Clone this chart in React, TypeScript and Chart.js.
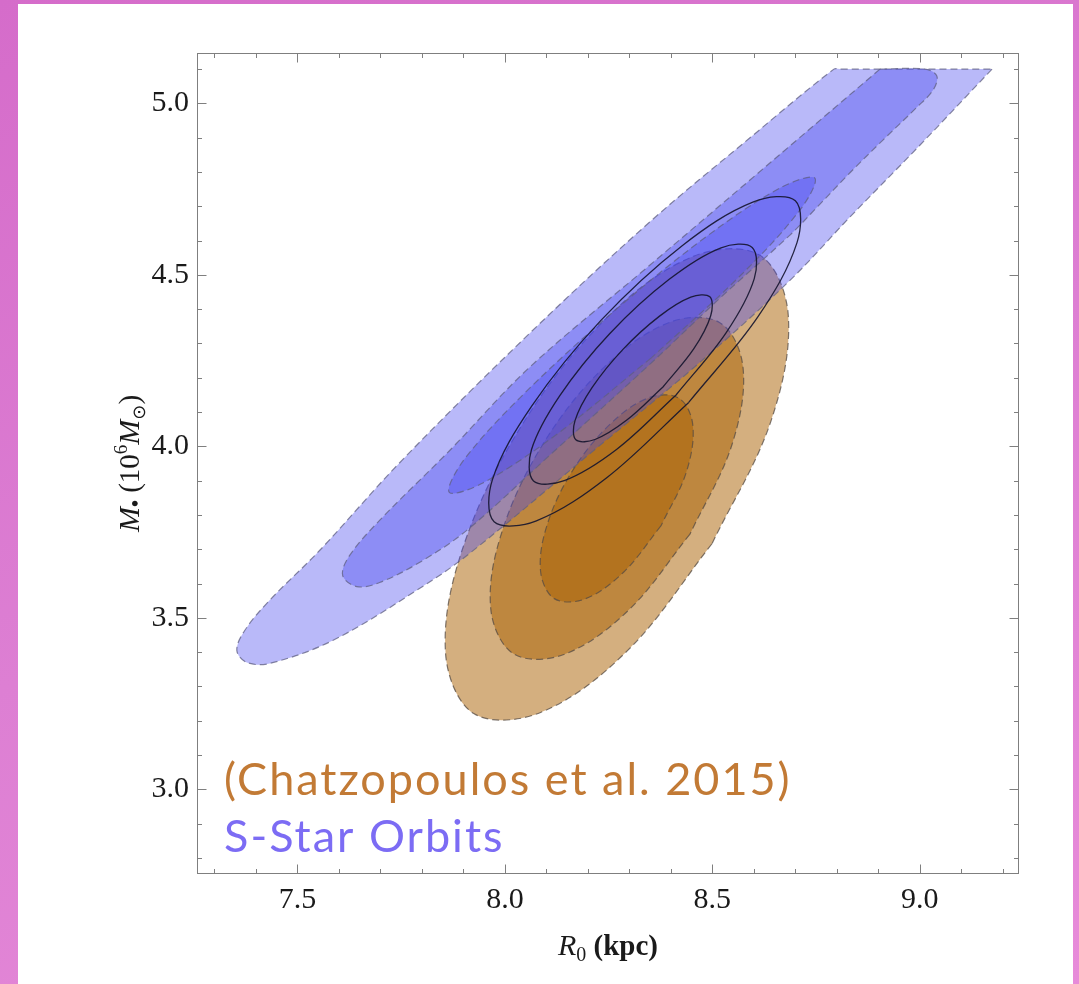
import React, { useEffect, useRef } from 'react';
import { Chart, registerables } from 'chart.js';

Chart.register(...registerables);

// ---- axes ----
const xRange: [number, number] = [7.258, 9.239];
const yRange: [number, number] = [2.753, 5.147];
const xTickLabels = [7.5, 8.0, 8.5, 9.0];
const yTickLabels = [3.0, 3.5, 4.0, 4.5, 5.0];
const xMinorTicks = [7.3, 7.4, 7.5, 7.6, 7.7, 7.8, 7.9, 8.0, 8.1, 8.2, 8.3, 8.4, 8.5, 8.6, 8.7, 8.8, 8.9, 9.0, 9.1, 9.2];
const yMinorTicks = [2.8, 2.9, 3.0, 3.1, 3.2, 3.3, 3.4, 3.5, 3.6, 3.7, 3.8, 3.9, 4.0, 4.1, 4.2, 4.3, 4.4, 4.5, 4.6, 4.7, 4.8, 4.9, 5.0, 5.1];

const xTitle = 'R0 (kpc)';
const noteChatz = '(Chatzopoulos et al. 2015)';
const noteSStar = 'S-Star Orbits';

// ---- contours: [R0 (kpc), M (10^6 Msun)] ----
// S-star orbits (blue), clipped at M = 5.1
const sStarOuter: [number, number][] = [
  [9.174, 5.100], [9.000, 4.878], [8.831, 4.668], [8.687, 4.484], [8.470, 4.245], [8.229, 4.003],
  [7.915, 3.688], [7.795, 3.586], [7.585, 3.434], [7.433, 3.367], [7.378, 3.370], [7.354, 3.405],
  [7.373, 3.463], [7.433, 3.551], [7.554, 3.697], [7.747, 3.953], [8.060, 4.330], [8.349, 4.654],
  [8.590, 4.899], [8.793, 5.100], [8.808, 5.100], [9.174, 5.100],
];
const sStarMiddle: [number, number][] = [
  [8.904, 5.100], [9.012, 5.100], [9.041, 5.080], [9.032, 5.039], [8.993, 4.989], [8.911, 4.893],
  [8.831, 4.797], [8.752, 4.697], [8.687, 4.616], [8.518, 4.432], [8.349, 4.239], [8.108, 3.974],
  [7.908, 3.755], [7.795, 3.662], [7.698, 3.603], [7.643, 3.591], [7.609, 3.624], [7.626, 3.682],
  [7.698, 3.784], [7.867, 3.988], [8.060, 4.231], [8.349, 4.528], [8.590, 4.776], [8.904, 5.100],
];
const sStarInner: [number, number][] = [
  [8.353, 4.258], [8.127, 4.037], [7.948, 3.894], [7.866, 3.866], [7.901, 3.960], [8.045, 4.152],
  [8.259, 4.390], [8.485, 4.611], [8.664, 4.754], [8.747, 4.782], [8.711, 4.689], [8.566, 4.496],
  [8.353, 4.258],
];

// Chatzopoulos et al. 2015 (orange)
const chatzOuter: [number, number][] = [
  [8.499, 3.716], [8.296, 3.405], [8.086, 3.224], [7.925, 3.221], [7.857, 3.397], [7.899, 3.705],
  [8.041, 4.062], [8.244, 4.373], [8.454, 4.554], [8.615, 4.557], [8.683, 4.381], [8.641, 4.073],
  [8.499, 3.716],
];
const chatzMiddle: [number, number][] = [
  [8.446, 3.744], [8.297, 3.521], [8.142, 3.393], [8.021, 3.395], [7.966, 3.526], [7.993, 3.751],
  [8.094, 4.011], [8.242, 4.234], [8.398, 4.362], [8.519, 4.360], [8.574, 4.229], [8.547, 4.004],
  [8.446, 3.744],
];
const chatzInner: [number, number][] = [
  [8.376, 3.768], [8.286, 3.633], [8.193, 3.555], [8.119, 3.556], [8.086, 3.636], [8.102, 3.772],
  [8.163, 3.929], [8.253, 4.064], [8.347, 4.142], [8.420, 4.140], [8.453, 4.061], [8.437, 3.924],
  [8.376, 3.768],
];

// combined constraint (black solid)
const combinedOuter: [number, number][] = [
  [8.443, 4.128], [8.247, 3.910], [8.076, 3.783], [7.974, 3.780], [7.970, 3.903], [8.065, 4.118],
  [8.232, 4.368], [8.428, 4.586], [8.599, 4.713], [8.700, 4.716], [8.704, 4.594], [8.610, 4.378],
  [8.443, 4.128],
];
const combinedMiddle: [number, number][] = [
  [8.412, 4.149], [8.269, 3.991], [8.143, 3.900], [8.069, 3.899], [8.064, 3.990], [8.132, 4.147],
  [8.253, 4.329], [8.396, 4.487], [8.521, 4.579], [8.596, 4.580], [8.601, 4.489], [8.533, 4.331],
  [8.412, 4.149],
];
const combinedInner: [number, number][] = [
  [8.381, 4.173], [8.293, 4.076], [8.217, 4.020], [8.171, 4.019], [8.169, 4.075], [8.210, 4.171],
  [8.284, 4.282], [8.372, 4.379], [8.448, 4.435], [8.494, 4.436], [8.496, 4.381], [8.455, 4.284],
  [8.381, 4.173],
];

// ---- styles ----
const BLUE_FILL = 'rgba(70,70,240,0.38)';
const ORANGE_FILL = 'rgba(170,95,0,0.5)';
const BLUE_EDGE = 'rgba(95,95,130,0.75)';
const ORANGE_EDGE = 'rgba(85,75,65,0.75)';
const BLACK_EDGE = 'rgba(20,20,45,0.9)';
const SERIF = '"Liberation Serif", "Times New Roman", serif';

function mk(label: string, pts: [number, number][], border: string, fillColor: string | null, dash: number[], width: number) {
  return {
    label,
    data: pts.map(([x, y]) => ({ x, y })),
    showLine: true,
    pointRadius: 0,
    pointHoverRadius: 0,
    borderColor: border,
    borderWidth: width,
    borderDash: dash,
    tension: 0.35,
    fill: false,
    fillColor,
  };
}

const contourFill = {
  id: 'contourFill',
  beforeDatasetDraw(chart: any, args: any) {
    const ds = chart.data.datasets[args.index];
    const line = args.meta.dataset;
    if (!ds.fillColor || !line) return;
    const ctx = chart.ctx;
    line.updateControlPoints(chart.chartArea, 'x');
    ctx.save();
    const a = chart.chartArea;
    ctx.beginPath();
    ctx.rect(a.left, a.top, a.right - a.left, a.bottom - a.top);
    ctx.clip();
    ctx.beginPath();
    line.path(ctx);
    ctx.closePath();
    ctx.fillStyle = ds.fillColor;
    ctx.fill();
    ctx.restore();
  },
};

type Seg = { text: string; font: string; dy?: number; w?: number };
function drawRich(ctx: CanvasRenderingContext2D, segs: Seg[], cx: number, y: number) {
  let total = 0;
  for (const s of segs) {
    ctx.font = s.font;
    s.w = ctx.measureText(s.text).width;
    total += s.w;
  }
  let x = cx - total / 2;
  for (const s of segs) {
    ctx.font = s.font;
    ctx.fillText(s.text, x, y + (s.dy || 0));
    x += s.w || 0;
  }
}

const framePlugin = {
  id: 'frame',
  afterDatasetsDraw(chart: any) {
    const { ctx, chartArea: a, scales } = chart;
    const xs = scales.x;
    const ys = scales.y;
    ctx.save();
    ctx.strokeStyle = '#7f7f7f';
    ctx.lineWidth = 1;
    const L = Math.round(a.left) + 0.5, R = Math.round(a.right) - 0.5;
    const T = Math.round(a.top) + 0.5, B = Math.round(a.bottom) - 0.5;
    ctx.strokeRect(L, T, R - L, B - T);
    const isMajor = (v: number) => Math.abs(v * 2 - Math.round(v * 2)) < 1e-6;
    ctx.beginPath();
    for (const v of xMinorTicks) {
      const p = Math.round(xs.getPixelForValue(v)) + 0.5;
      const len = isMajor(v) ? 9 : 4.5;
      ctx.moveTo(p, B); ctx.lineTo(p, B - len);
      ctx.moveTo(p, T); ctx.lineTo(p, T + len);
    }
    for (const v of yMinorTicks) {
      const p = Math.round(ys.getPixelForValue(v)) + 0.5;
      const len = isMajor(v) ? 9 : 4.5;
      ctx.moveTo(L, p); ctx.lineTo(L + len, p);
      ctx.moveTo(R, p); ctx.lineTo(R - len, p);
    }
    ctx.stroke();
    ctx.restore();
  },
  afterDraw(chart: any) {
    const { ctx, chartArea: a } = chart;
    ctx.save();
    ctx.fillStyle = '#1a1a1a';
    ctx.textAlign = 'left';
    ctx.textBaseline = 'alphabetic';
    // x title: R0 (kpc)
    const xt = xTitle.split(' ');
    drawRich(ctx, [
      { text: xt[0].charAt(0), font: `italic 30px ${SERIF}` },
      { text: xt[0].slice(1), font: `20px ${SERIF}`, dy: 6 },
      { text: ' ' + xt[1], font: `bold 29px ${SERIF}` },
    ], (a.left + a.right) / 2, 955);
    // y title: M• (10^6 M⊙)
    ctx.save();
    ctx.translate(139, (a.top + a.bottom) / 2);
    ctx.rotate(-Math.PI / 2);
    drawRich(ctx, [
      { text: 'M', font: `italic 30px ${SERIF}` },
      { text: '•', font: `bold 20px ${SERIF}`, dy: 3 },
      { text: ' (10', font: `29px ${SERIF}` },
      { text: '6', font: `19px ${SERIF}`, dy: -12 },
      { text: 'M', font: `italic 30px ${SERIF}` },
      { text: '⊙', font: `18px "DejaVu Sans", ${SERIF}`, dy: 6 },
      { text: ')', font: `29px ${SERIF}` },
    ], 0, 0);
    ctx.restore();
    // annotations
    ctx.font = '45px Lato, "Open Sans", sans-serif';
    try { (ctx as any).letterSpacing = '2px'; } catch (e) { /* ignore */ }
    ctx.fillStyle = '#c27a35';
    ctx.fillText(noteChatz, 224, 795);
    ctx.fillStyle = '#7c6cf4';
    ctx.fillText(noteSStar, 224, 852);
    ctx.restore();
  },
};

export default function App() {
  const ref = useRef<HTMLCanvasElement>(null);
  useEffect(() => {
    if (!ref.current) return;
    const datasets = [
      mk('combined 1', combinedOuter, BLACK_EDGE, null, [], 1.3),
      mk('combined 2', combinedMiddle, BLACK_EDGE, null, [], 1.3),
      mk('combined 3', combinedInner, BLACK_EDGE, null, [], 1.3),
      mk('S-star inner', sStarInner, BLUE_EDGE, BLUE_FILL, [7, 4], 1.2),
      mk('S-star middle', sStarMiddle, BLUE_EDGE, BLUE_FILL, [7, 4], 1.2),
      mk('S-star outer', sStarOuter, BLUE_EDGE, BLUE_FILL, [7, 4], 1.2),
      mk('Chatz inner', chatzInner, ORANGE_EDGE, ORANGE_FILL, [7, 4], 1.2),
      mk('Chatz middle', chatzMiddle, ORANGE_EDGE, ORANGE_FILL, [7, 4], 1.2),
      mk('Chatz outer', chatzOuter, ORANGE_EDGE, ORANGE_FILL, [7, 4], 1.2),
    ];
    const tickFont = { family: SERIF, size: 30 };
    const chart = new Chart(ref.current, {
      type: 'scatter',
      data: { datasets } as any,
      options: {
        animation: false,
        responsive: false,
        maintainAspectRatio: false,
        devicePixelRatio: 1,
        layout: { padding: { left: 0, right: 60, top: 53, bottom: 0 } },
        plugins: { legend: { display: false }, tooltip: { enabled: false } },
        events: [],
        scales: {
          x: {
            type: 'linear',
            min: xRange[0],
            max: xRange[1],
            grid: { display: false, drawTicks: false },
            border: { display: false },
            afterBuildTicks: (s: any) => { s.ticks = xTickLabels.map((v) => ({ value: v })); },
            afterFit: (s: any) => { s.height = 110; },
            ticks: {
              padding: 8,
              font: tickFont,
              color: '#1a1a1a',
              maxRotation: 0,
              autoSkip: false,
              callback: (v: any) => Number(v).toFixed(1),
            },
          },
          y: {
            type: 'linear',
            min: yRange[0],
            max: yRange[1],
            grid: { display: false, drawTicks: false },
            border: { display: false },
            afterBuildTicks: (s: any) => { s.ticks = yTickLabels.map((v) => ({ value: v })); },
            afterFit: (s: any) => { s.width = 197; },
            ticks: {
              padding: 8,
              font: tickFont,
              color: '#1a1a1a',
              autoSkip: false,
              callback: (v: any) => Number(v).toFixed(1),
            },
          },
        },
      } as any,
      plugins: [contourFill, framePlugin],
    });
    return () => chart.destroy();
  }, []);

  return (
    <div
      style={{
        position: 'absolute',
        left: 0,
        top: 0,
        width: 1079,
        height: 984,
        overflow: 'hidden',
        background: 'linear-gradient(160deg, #d56cca 0%, #dd7fd3 50%, #e78bd9 100%)',
      }}
    >
      <div style={{ position: 'absolute', left: 18, top: 4, width: 1055, height: 990, background: '#ffffff' }} />
      <canvas
        ref={ref}
        width={1079}
        height={984}
        style={{ position: 'absolute', left: 0, top: 0, width: 1079, height: 984 }}
      />
    </div>
  );
}
